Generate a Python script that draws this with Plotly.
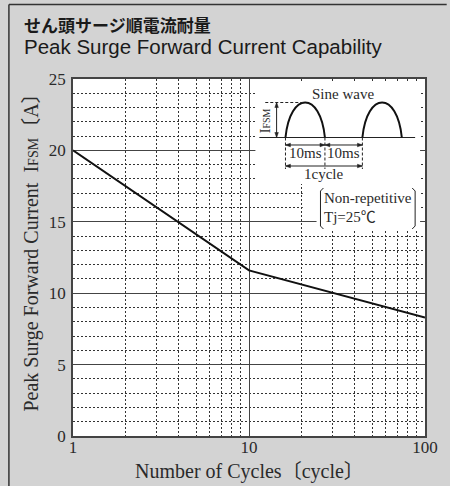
import plotly.graph_objects as go

# ---- data ----
cycles = [1, 10, 100]
ifsm = [20.0, 11.6, 8.3]
x_ticks = [1, 10, 100]
x_minor = [2, 3, 4, 5, 6, 7, 8, 9, 20, 30, 40, 50, 60, 70, 80, 90]
y_ticks = [0, 5, 10, 15, 20, 25]

W, H = 450, 486
L, R, T, B = 73, 430, 79, 436
SERIF = "Liberation Serif, Noto Sans CJK JP"
TXT = "#2a2a2a"
BG = "#d3d3d3"


def X(px):
    return (px - L) / (R - L)


def Y(py):
    return (B - py) / (B - T)


def path(pts, close=False):
    s = "M " + " L ".join(f"{X(a):.5f},{Y(b):.5f}" for a, b in pts)
    return s + (" Z" if close else "")


shapes = []
annotations = []

# outer frame lines
shapes.append(dict(type="line", xref="paper", yref="paper", x0=X(8), x1=X(8), y0=Y(4.5), y1=Y(490),
                   line=dict(color="#333", width=1.5), layer="above"))
shapes.append(dict(type="line", xref="paper", yref="paper", x0=X(8), x1=X(452), y0=Y(4.5), y1=Y(4.5),
                   line=dict(color="#333", width=1.5), layer="above"))

# white masks for inset
for (x0, y0, x1, y1) in [(258, 81.5, 425, 184), (320, 184, 425, 230), (306, 184, 320, 215)]:
    shapes.append(dict(type="rect", xref="paper", yref="paper", x0=X(x0), x1=X(x1), y0=Y(y1), y1=Y(y0),
                       fillcolor="white", line=dict(width=0), layer="above"))

ln = dict(color="#222", width=1)
# sine diagram
base = 137.5
peak = 102.5
shapes.append(dict(type="path", xref="paper", yref="paper", path=path([(262, base), (420, base)]),
                   line=ln, layer="above"))
for x0, x1 in [(288.5, 328.5), (366.5, 406.5)]:
    w = x1 - x0
    h = base - peak
    p = (f"M {X(x0):.5f},{Y(base):.5f} C {X(x0 + 0.12 * w):.5f},{Y(base - 1.333 * h):.5f} "
         f"{X(x1 - 0.12 * w):.5f},{Y(base - 1.333 * h):.5f} {X(x1):.5f},{Y(base):.5f}")
    shapes.append(dict(type="path", xref="paper", yref="paper", path=p,
                       line=dict(color="#111", width=2), layer="above"))
# dashed peak line
shapes.append(dict(type="path", xref="paper", yref="paper", path=path([(268, peak), (308, peak)]),
                   line=dict(color="#222", width=1, dash="3px,2px"), layer="above"))
# vertical dashed ticks
for xv in [288.5, 328.5, 366.5]:
    shapes.append(dict(type="path", xref="paper", yref="paper", path=path([(xv, base), (xv, 169)]),
                       line=dict(color="#222", width=1, dash="3px,2px"), layer="above"))


def arrow(p0, p1):
    shapes.append(dict(type="path", xref="paper", yref="paper", path=path([p0, p1]), line=ln, layer="above"))
    for tip, tail in [(p0, p1), (p1, p0)]:
        dx, dy = tail[0] - tip[0], tail[1] - tip[1]
        d = (dx * dx + dy * dy) ** 0.5
        ux, uy = dx / d, dy / d
        a, b = 5.0, 1.8
        pts = [tip, (tip[0] + ux * a - uy * b, tip[1] + uy * a + ux * b),
               (tip[0] + ux * a + uy * b, tip[1] + uy * a - ux * b)]
        shapes.append(dict(type="path", xref="paper", yref="paper", path=path(pts, True),
                           fillcolor="#222", line=dict(color="#222", width=0.5), layer="above"))


arrow((279.5, peak), (279.5, base))
arrow((288.5, 145), (328.5, 145))
arrow((328.5, 145), (366.5, 145))
arrow((288.5, 166), (366.5, 166))

# brackets
shapes.append(dict(type="path", xref="paper", yref="paper",
                   path=path([(327, 188), (324, 191), (324, 226), (327, 229)]), line=ln, layer="above"))
shapes.append(dict(type="path", xref="paper", yref="paper",
                   path=path([(417, 188), (420, 191), (420, 226), (417, 229)]), line=ln, layer="above"))


def text(s, px, py, size=15, xanchor="center", angle=0, family=SERIF, color=TXT):
    annotations.append(dict(text=s, x=X(px), y=Y(py), xref="paper", yref="paper", showarrow=False,
                            xanchor=xanchor, yanchor="middle", textangle=angle,
                            font=dict(family=family, size=size, color=color)))


text("Sine wave", 347, 94)
text("I<span style='font-size:10px'>FSM</span>", 268, 121, size=14, angle=-90)
text("10ms", 308.5, 153)
text("10ms", 347.5, 153)
text("1cycle", 327.5, 174)
text("Non-repetitive", 326, 198, xanchor="left")
text("Tj=25℃", 326, 217, xanchor="left")

# titles
text("<b>せん頭サージ順電流耐量</b>", 21, 24, size=17, xanchor="left",
     family="Noto Sans CJK JP", color="#1a1a1a")
text("Peak Surge Forward Current Capability", 21, 46, size=20.5, xanchor="left",
     family="Liberation Sans, Arial", color="#1a1a1a")
# axis titles
text("Peak Surge Forward Current  I<span style='font-size:14px'>FSM</span>〔A〕", 30, 248, size=20, angle=-90)
text("Number of Cycles〔cycle〕", 252, 471, size=20)

fig = go.Figure()
fig.add_trace(go.Scatter(x=cycles, y=ifsm, mode="lines", line=dict(color="#111", width=2),
                         hoverinfo="skip", showlegend=False, cliponaxis=False))

grid_major = dict(color="#444", width=1.3)
fig.update_layout(
    width=W, height=H,
    margin=dict(l=L, r=W - R, t=T, b=H - B, pad=0),
    paper_bgcolor=BG, plot_bgcolor="white",
    showlegend=False,
    shapes=shapes, annotations=annotations,
    xaxis=dict(type="log", range=[0, 2], tickvals=x_ticks, ticktext=[str(v) for v in x_ticks],
               showgrid=True, gridcolor=grid_major["color"], gridwidth=grid_major["width"],
               minor=dict(tickvals=x_minor, showgrid=True, gridcolor="#333", gridwidth=1,
                          griddash="2px,2px", ticks=""),
               showline=True, mirror=True, linecolor="#444", linewidth=1.5, ticks="",
               zeroline=False, tickfont=dict(family=SERIF, size=17, color=TXT), ticklabelstandoff=-5),
    yaxis=dict(range=[0, 25], tickvals=y_ticks,
               showgrid=True, gridcolor=grid_major["color"], gridwidth=grid_major["width"],
               minor=dict(dtick=1, tick0=0, showgrid=True, gridcolor="#333", gridwidth=1,
                          griddash="2px,2px", ticks=""),
               showline=True, mirror=True, linecolor="#444", linewidth=1.5, ticks="",
               zeroline=False, tickfont=dict(family=SERIF, size=17, color=TXT), ticklabelstandoff=2),
)
fig.write_html("out.html", config={"displayModeBar": False},
               post_script="document.body.style.margin='0px';")
